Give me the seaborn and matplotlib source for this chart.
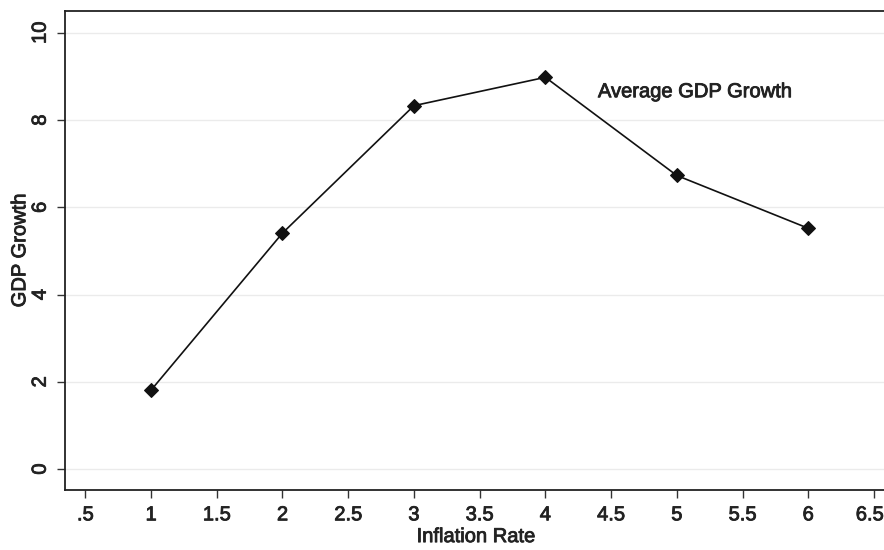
import matplotlib
matplotlib.use("Agg")
import matplotlib.pyplot as plt
import matplotlib.patheffects as pe
import matplotlib.transforms as mtrans
import seaborn as sns
import pandas as pd

inflation = [1, 2, 3, 4, 5, 6]
gdp_growth = [1.81, 5.41, 8.33, 8.98, 6.73, 5.52]
x_ticks = [0.5, 1, 1.5, 2, 2.5, 3, 3.5, 4, 4.5, 5, 5.5, 6, 6.5]
x_tick_labels = [".5", "1", "1.5", "2", "2.5", "3", "3.5", "4", "4.5", "5", "5.5", "6", "6.5"]
y_ticks = [0, 2, 4, 6, 8, 10]
label_text = "Average GDP Growth"

sns.set_style("white")
plt.rcParams['font.family'] = ['Liberation Sans', 'DejaVu Sans']

TXT = '#222222'
thick = [pe.withStroke(linewidth=0.6, foreground=TXT)]

df = pd.DataFrame({"Inflation Rate": inflation, "GDP Growth": gdp_growth})

fig = plt.figure(figsize=(8.84, 5.5), dpi=100)
ax = fig.add_axes([0.0735, 0.109, 0.93, 0.871])

ax.grid(axis='y', color='#ebebeb', linewidth=1.0, zorder=0)
ax.set_axisbelow(True)

sns.lineplot(data=df, x="Inflation Rate", y="GDP Growth", ax=ax, color='#111111',
             linewidth=1.2, marker='D', markersize=7.5, markeredgecolor='#111111',
             markerfacecolor='#111111', zorder=3)

ax.set_xlim(0.345, 6.6)
ax.set_ylim(-0.48, 10.5)
ax.set_xticks(x_ticks)
ax.set_xticklabels(x_tick_labels)
ax.set_yticks(y_ticks)
ax.set_yticklabels([str(v) for v in y_ticks], rotation=90, va='center')

ax.tick_params(axis='both', direction='out', length=6, width=1.0, color='#333333',
               labelsize=14.5, labelcolor=TXT, pad=5)
ax.tick_params(axis='x', bottom=True)
ax.tick_params(axis='y', left=True)

for side in ['left', 'bottom', 'top']:
    ax.spines[side].set_color('#222222')
    ax.spines[side].set_linewidth(1.3)
ax.spines['right'].set_visible(False)

ax.set_xlabel("Inflation Rate", fontsize=14.5, color=TXT, labelpad=2,
              path_effects=thick)
ax.set_ylabel("GDP Growth", fontsize=14.5, color=TXT, labelpad=1,
              path_effects=thick)
for lbl in ax.get_xticklabels() + ax.get_yticklabels():
    lbl.set_path_effects(thick)

# nudge the last x tick label slightly left so it stays inside the figure
last = ax.xaxis.get_major_ticks()[-1].label1
last.set_transform(last.get_transform() + mtrans.ScaledTranslation(-3 / 72, 0, fig.dpi_scale_trans))

ax.text(4.40, 8.65, label_text, fontsize=14.5, color=TXT,
        ha='left', va='center', path_effects=thick)

fig.savefig("out.png", dpi=100)
